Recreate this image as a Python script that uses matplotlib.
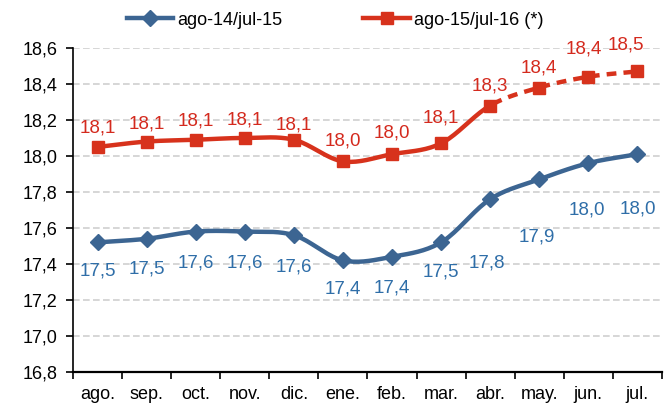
import matplotlib.pyplot as plt
from matplotlib.lines import Line2D
import numpy as np

plt.rcParams['font.family'] = ['Liberation Sans', 'DejaVu Sans']

meses = ['ago.', 'sep.', 'oct.', 'nov.', 'dic.', 'ene.', 'feb.', 'mar.', 'abr.', 'may.', 'jun.', 'jul.']
serie_14_15 = [17.52, 17.54, 17.58, 17.58, 17.56, 17.42, 17.44, 17.52, 17.76, 17.87, 17.96, 18.01]
serie_15_16 = [18.05, 18.08, 18.09, 18.10, 18.09, 17.97, 18.01, 18.07, 18.28, 18.38, 18.44, 18.47]
etiq_14_15 = ['17,5', '17,5', '17,6', '17,6', '17,6', '17,4', '17,4', '17,5', '17,8', '17,9', '18,0', '18,0']
etiq_15_16 = ['18,1', '18,1', '18,1', '18,1', '18,1', '18,0', '18,0', '18,1', '18,3', '18,4', '18,4', '18,5']

azul = '#3c6592'
rojo = '#d7321c'
azul_txt = '#2f6ea8'
rojo_txt = '#d42a1e'


def suave(x, y, n=20):
    # catmull-rom, parecido al suavizado de excel
    x = np.asarray(x, float)
    y = np.asarray(y, float)
    px = np.concatenate([[2*x[0]-x[1]], x, [2*x[-1]-x[-2]]])
    py = np.concatenate([[2*y[0]-y[1]], y, [2*y[-1]-y[-2]]])
    xs, ys = [], []
    t = np.linspace(0, 1, n)
    for i in range(1, len(px)-2):
        for p, out in ((px, xs), (py, ys)):
            p0, p1, p2, p3 = p[i-1], p[i], p[i+1], p[i+2]
            out.extend(0.5*((2*p1) + (-p0+p2)*t + (2*p0-5*p1+4*p2-p3)*t**2 + (-p0+3*p1-3*p2+p3)*t**3))
    return np.array(xs), np.array(ys)


fig = plt.figure(figsize=(6.7, 4.03), dpi=100)
ax = fig.add_axes([0.109, 0.077, 0.879, 0.804])
x = np.arange(len(meses))

sx, sy = suave(x, serie_14_15)
ax.plot(sx, sy, color=azul, lw=3.2, solid_capstyle='round', zorder=3)
ax.plot(x, serie_14_15, 'D', color=azul, ms=8, zorder=4)

sx, sy = suave(x, serie_15_16)
corte = 8
m = sx <= corte
ax.plot(sx[m], sy[m], color=rojo, lw=3.2, solid_capstyle='round', zorder=3)
ax.plot(sx[~m], sy[~m], color=rojo, lw=3.2, ls=(0, (2.2, 1.6)), zorder=3)
ax.plot(x, serie_15_16, 's', color=rojo, ms=8, zorder=4)

off_azul = [(0, -29), (0, -30), (0, -31), (0, -31), (0, -32), (0, -29), (0, -31), (0, -30),
            (-3, -64), (-2, -58), (-1, -47), (0, -55)]
off_rojo = [(0, 19), (0, 18), (0, 19), (0, 18), (0, 15), (0, 20), (0, 21), (0, 25),
            (0, 20), (0, 20), (-5, 28), (-12, 26)]
for i in range(len(meses)):
    ax.annotate(etiq_14_15[i], (x[i], serie_14_15[i]), xytext=off_azul[i], textcoords='offset pixels',
                ha='center', va='center', fontsize=13.5, color=azul_txt)
    ax.annotate(etiq_15_16[i], (x[i], serie_15_16[i]), xytext=off_rojo[i], textcoords='offset pixels',
                ha='center', va='center', fontsize=13.5, color=rojo_txt)

ax.set_xlim(-0.5, len(meses)-0.5)
ax.set_ylim(16.8, 18.6)
yt = np.arange(16.8, 18.61, 0.2)
ax.set_yticks(yt)
ax.set_yticklabels([('%.1f' % v).replace('.', ',') for v in yt], fontsize=13)
ax.set_xticks(x)
ax.set_xticklabels(meses, fontsize=13)
ax.set_xticks(np.arange(-0.5, len(meses), 1), minor=True)
ax.tick_params(axis='x', which='major', length=0, pad=10)
ax.tick_params(axis='x', which='minor', length=5, width=1.2, direction='out')
ax.tick_params(axis='y', length=5, width=1.2, direction='out', pad=6)
ax.grid(axis='y', color='#d0d0d0', ls=(0, (4, 2)), lw=1.2, zorder=0)
for s in ['top', 'right']:
    ax.spines[s].set_visible(False)
ax.spines['left'].set_linewidth(1.2)
ax.spines['bottom'].set_linewidth(1.6)

h1 = Line2D([], [], color=azul, lw=3.2, marker='D', ms=8)
h2 = Line2D([], [], color=rojo, lw=3.2, marker='s', ms=8)
fig.legend([h1, h2], ['ago-14/jul-15', 'ago-15/jul-16 (*)'], loc='center', bbox_to_anchor=(0.5, 0.95),
           ncol=2, frameon=False, fontsize=13, handlelength=2.6, handletextpad=0.2, columnspacing=4.5)

plt.savefig('out.png', dpi=100)
